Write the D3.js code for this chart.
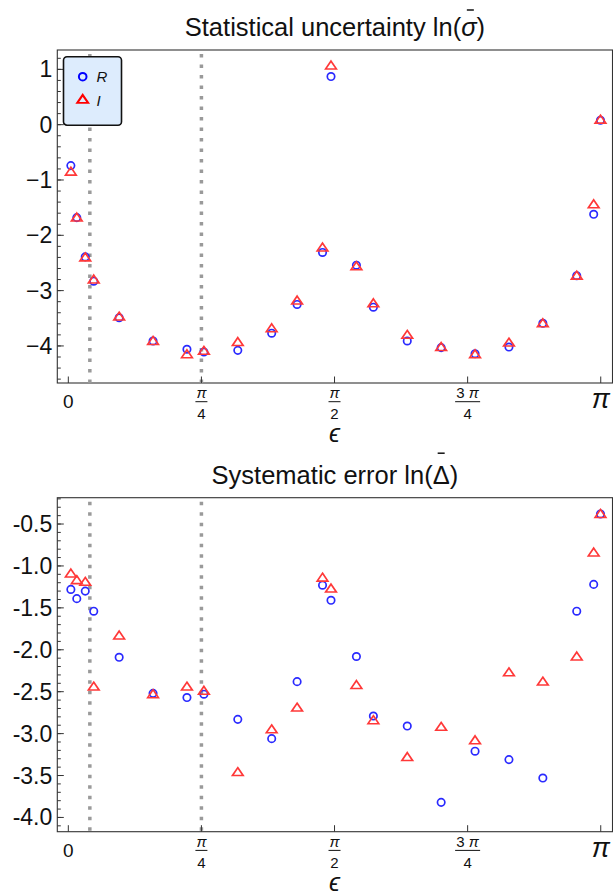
<!DOCTYPE html>
<html>
<head>
<meta charset="utf-8">
<script src="https://cdn.jsdelivr.net/npm/d3@7"></script>
<style>
  body { margin: 0; background: #fff; }
  svg { display: block; font-family: "Liberation Sans", Arial, sans-serif; }
</style>
</head>
<body>
<svg id="chart" width="613" height="894"></svg>
<script>
// epsilon values (shared by both panels)
var eps = [0.015, 0.05, 0.1, 0.15, 0.3, 0.5, 0.7, 0.8, 1.0, 1.2, 1.35, 1.5, 1.55,
           1.7, 1.8, 2.0, 2.2, 2.4, 2.6, 2.8, 3.0, 3.1, 3.14];

// ln(sigma bar)
var sigmaR = [-0.74, -1.68, -2.39, -2.83, -3.49, -3.91, -4.06, -4.11, -4.08, -3.77, -3.25, -2.31, 0.87,
              -2.54, -3.30, -3.91, -4.03, -4.14, -4.02, -3.59, -2.73, -1.62, 0.08];
var sigmaI = [-0.85, -1.68, -2.40, -2.80, -3.47, -3.91, -4.15, -4.09, -3.93, -3.68, -3.18, -2.22, 1.07,
              -2.56, -3.23, -3.80, -4.02, -4.15, -3.94, -3.59, -2.73, -1.44, 0.09];

// ln(Delta bar)
var deltaR = [-1.28, -1.39, -1.30, -1.54, -2.09, -2.52, -2.57, -2.53, -2.83, -3.06, -2.38, -1.23, -1.41,
              -2.08, -2.79, -2.91, -3.82, -3.21, -3.31, -3.53, -1.54, -1.22, -0.38];
var deltaI = [-1.09, -1.17, -1.19, -2.44, -1.83, -2.53, -2.44, -2.49, -3.46, -2.95, -2.69, -1.14, -1.27,
              -2.42, -2.84, -3.28, -2.92, -3.08, -2.27, -2.38, -2.08, -0.84, -0.38];

var cutoffs = [0.127, Math.PI / 4];

var xTickValues = [0, Math.PI / 4, Math.PI / 2, 3 * Math.PI / 4, Math.PI];
var xTickNum = ['0', 'π', 'π', '3 π', 'π'];
var xTickDen = [null, '4', '2', '4', null];

var yTicksTop = [-4, -3, -2, -1, 0, 1];
var yTicksTopLabels = ['−4', '−3', '−2', '−1', '0', '1'];
var yTicksBottom = [-4.0, -3.5, -3.0, -2.5, -2.0, -1.5, -1.0, -0.5];
var yTicksBottomLabels = ['-4.0', '-3.5', '-3.0', '-2.5', '-2.0', '-1.5', '-1.0', '-0.5'];

var seriesNames = ['R', 'I'];

var BLUE = '#2a2aff', RED = '#ff3838';
var LEFT = 57.3, RIGHT = 612.5;

var svg = d3.select('#chart');

var x = d3.scaleLinear().domain([-0.065, 3.211]).range([LEFT, RIGHT]);

var triangle = d3.symbol().type(d3.symbolTriangle).size(40);

function drawPanel(opts) {
    var y = d3.scaleLinear().domain(opts.yDomain).range([opts.bottom, opts.top]);
    var g = svg.append('g');

    // title, with an overbar drawn above the symbol
    var titleY = opts.top - 14;
    var title = g.append('text')
        .attr('x', (LEFT + RIGHT) / 2)
        .attr('y', titleY)
        .attr('text-anchor', 'middle')
        .attr('font-size', 25.5)
        .attr('fill', '#111');
    var prefix = opts.titleText + ' ln(';
    title.append('tspan').text(prefix);
    title.append('tspan').attr('font-style', opts.italicSym ? 'italic' : 'normal').text(opts.sym);
    title.append('tspan').text(')');
    var box = title.node().getExtentOfChar(prefix.length);
    var bx = box.x + box.width / 2 + (opts.italicSym ? 1.5 : 0);
    g.append('line')
        .attr('x1', bx - 3.5).attr('x2', bx + 3.5)
        .attr('y1', titleY - opts.barRise).attr('y2', titleY - opts.barRise)
        .attr('stroke', '#111').attr('stroke-width', 1.5);

    // frame
    g.append('rect')
        .attr('x', LEFT).attr('y', opts.top)
        .attr('width', RIGHT - LEFT).attr('height', opts.bottom - opts.top)
        .attr('fill', 'none').attr('stroke', '#333').attr('stroke-width', 1.1);

    // dotted reference lines
    g.selectAll('.cut').data(cutoffs).enter().append('line')
        .attr('class', 'cut')
        .attr('x1', function(d) { return x(d); }).attr('x2', function(d) { return x(d); })
        .attr('y1', opts.top + 4).attr('y2', opts.bottom)
        .attr('stroke', '#9a9a9a').attr('stroke-width', 3.5)
        .attr('stroke-dasharray', '3.5,7');

    // y minor ticks
    var minor = opts.minor.filter(function(v) { return v > opts.yDomain[0] && v < opts.yDomain[1]; });
    g.selectAll('.ymin').data(minor).enter().append('line')
        .attr('x1', LEFT).attr('x2', LEFT + 3.5)
        .attr('y1', function(d) { return y(d); }).attr('y2', function(d) { return y(d); })
        .attr('stroke', '#333').attr('stroke-width', 1);

    // y major ticks + labels
    g.selectAll('.ymaj').data(opts.yTicks).enter().append('line')
        .attr('x1', LEFT).attr('x2', LEFT + 6.5)
        .attr('y1', function(d) { return y(d); }).attr('y2', function(d) { return y(d); })
        .attr('stroke', '#333').attr('stroke-width', 1);
    g.selectAll('.ylab').data(opts.yTicks).enter().append('text')
        .attr('x', LEFT - 5)
        .attr('y', function(d) { return y(d) + 8; })
        .attr('text-anchor', 'end')
        .attr('font-size', 23)
        .attr('fill', '#111')
        .text(function(d, i) { return opts.yLabels[i]; });

    // x ticks + labels
    g.selectAll('.xmaj').data(xTickValues).enter().append('line')
        .attr('x1', function(d) { return x(d); }).attr('x2', function(d) { return x(d); })
        .attr('y1', opts.bottom).attr('y2', opts.bottom - 6.5)
        .attr('stroke', '#333').attr('stroke-width', 1);

    xTickValues.forEach(function(v, i) {
        var cx = x(v), base = opts.bottom;
        if (xTickDen[i] === null) {
            var big = xTickNum[i] === 'π';
            g.append('text')
                .attr('x', cx).attr('y', base + 25)
                .attr('text-anchor', 'middle')
                .attr('font-size', big ? 27 : 19)
                .attr('font-style', big ? 'italic' : 'normal')
                .attr('fill', '#111')
                .text(xTickNum[i]);
        } else {
            var wide = xTickNum[i].length > 1;
            var num = g.append('text')
                .attr('x', cx).attr('y', base + 15)
                .attr('text-anchor', 'middle')
                .attr('font-size', 15)
                .attr('fill', '#111');
            if (wide) {
                num.append('tspan').text('3 ');
                num.append('tspan').attr('font-style', 'italic').text('π');
            } else {
                num.append('tspan').attr('font-style', 'italic').text('π');
            }
            var hw = wide ? 12.5 : 6;
            g.append('line')
                .attr('x1', cx - hw).attr('x2', cx + hw)
                .attr('y1', base + 18.7).attr('y2', base + 18.7)
                .attr('stroke', '#111').attr('stroke-width', 1);
            g.append('text')
                .attr('x', cx).attr('y', base + 36)
                .attr('text-anchor', 'middle')
                .attr('font-size', 15)
                .attr('fill', '#111')
                .text(xTickDen[i]);
        }
    });

    // axis label
    g.append('text')
        .attr('x', x(Math.PI / 2))
        .attr('y', opts.bottom + 59)
        .attr('text-anchor', 'middle')
        .attr('font-size', 25)
        .attr('font-style', 'italic')
        .attr('fill', '#111')
        .text('ϵ');

    // points: R circles, I triangles
    var pts = eps.map(function(e, i) { return { e: e, r: opts.rVals[i], im: opts.iVals[i] }; });

    g.selectAll('.ptR').data(pts).enter().append('circle')
        .attr('cx', function(d) { return x(d.e); })
        .attr('cy', function(d) { return y(d.r); })
        .attr('r', 3.7)
        .attr('fill', 'none')
        .attr('stroke', BLUE)
        .attr('stroke-width', 1.7);

    g.selectAll('.ptI').data(pts).enter().append('path')
        .attr('d', triangle)
        .attr('transform', function(d) { return 'translate(' + x(d.e) + ',' + (y(d.im) + 0.8) + ') scale(1.12,0.95)'; })
        .attr('fill', 'none')
        .attr('stroke', RED)
        .attr('stroke-width', 1.6);

    return y;
}

drawPanel({
    top: 50, bottom: 383,
    yDomain: [-4.67, 1.35],
    yTicks: yTicksTop, yLabels: yTicksTopLabels,
    minor: d3.range(-23, 7).map(function(k) { return k * 0.2; }),
    titleText: 'Statistical uncertainty', sym: 'σ', italicSym: true, barRise: 26,
    rVals: sigmaR, iVals: sigmaI
});

drawPanel({
    top: 497.7, bottom: 831.7,
    yDomain: [-4.17, -0.186],
    yTicks: yTicksBottom, yLabels: yTicksBottomLabels,
    minor: d3.range(-41, -1).map(function(k) { return k * 0.1; }),
    titleText: 'Systematic error', sym: 'Δ', italicSym: false, barRise: 30.5,
    rVals: deltaR, iVals: deltaI
});

// legend (top panel)
var legend = svg.append('g').attr('transform', 'translate(63.5,56.7)');
legend.append('rect')
    .attr('width', 58).attr('height', 68.5)
    .attr('rx', 3.5)
    .attr('fill', '#ddecfd')
    .attr('stroke', '#111').attr('stroke-width', 1.6);
legend.append('circle')
    .attr('cx', 19.2).attr('cy', 20).attr('r', 3.8)
    .attr('fill', 'none').attr('stroke', '#0000ff').attr('stroke-width', 2);
legend.append('path')
    .attr('d', triangle)
    .attr('transform', 'translate(19.2,43.5) scale(1.12,0.95)')
    .attr('fill', 'none').attr('stroke', '#ff0000').attr('stroke-width', 2);
legend.selectAll('.ltxt').data(seriesNames).enter().append('text')
    .attr('x', 33)
    .attr('y', function(d, i) { return 25.5 + i * 24; })
    .attr('font-size', 15)
    .attr('font-style', 'italic')
    .attr('fill', '#111')
    .text(function(d) { return d; });
</script>
</body>
</html>
